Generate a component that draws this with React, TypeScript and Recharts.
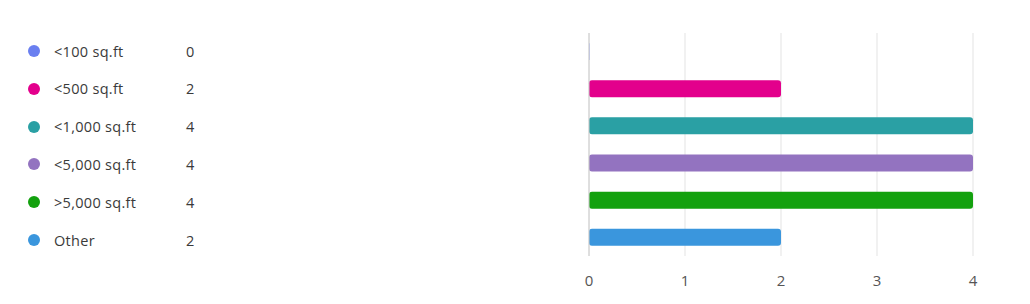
import React from "react";
import { BarChart, Bar, XAxis, YAxis, CartesianGrid, Cell, ReferenceLine } from "recharts";

const categories = ["<100 sq.ft", "<500 sq.ft", "<1,000 sq.ft", "<5,000 sq.ft", ">5,000 sq.ft", "Other"];
const counts = [0, 2, 4, 4, 4, 2];
const colors = ["#6a7ff0", "#e3008c", "#2aa0a4", "#9373c0", "#13a10e", "#3a96dd"];
const xTicks = [0, 1, 2, 3, 4];

const data = categories.map((name, i) => ({ name, value: counts[i] }));

const FONT = "'Segoe UI', 'Open Sans', 'Noto Sans', sans-serif";

const XTick = (props: any) => {
  const { x, y, payload } = props;
  return (
    <text x={x} y={y + 22} textAnchor="middle" fill="#555" fontSize={15} fontFamily={FONT}>
      {payload.value}
    </text>
  );
};

export default function App() {
  return (
    <div style={{ position: "absolute", left: 0, top: 0, width: 1030, height: 304, background: "#fff", fontFamily: FONT }}>
      <div style={{ position: "absolute", left: 0, top: 0 }}>
        {categories.map((c, i) => (
          <div
            key={c}
            style={{
              position: "absolute",
              left: 0,
              top: 51 + i * 37.8 - 10,
              height: 20,
              width: 220,
              display: "flex",
              alignItems: "center",
              fontSize: 14.5,
              letterSpacing: 0.3,
              color: "#3a3a3a",
            }}
          >
            <span
              style={{
                position: "absolute",
                left: 28,
                width: 12,
                height: 12,
                borderRadius: 6,
                background: colors[i],
              }}
            />
            <span style={{ position: "absolute", left: 54, whiteSpace: "nowrap" }}>{c}</span>
            <span style={{ position: "absolute", left: 186 }}>{counts[i]}</span>
          </div>
        ))}
      </div>
      <div style={{ position: "absolute", left: 0, top: 0 }}>
        <BarChart
          width={1030}
          height={304}
          data={data}
          layout="vertical"
          margin={{ top: 33, right: 57, bottom: 18, left: 589 }}
          barSize={17}
        >
          <CartesianGrid horizontal={false} stroke="#e3e3e3" />
          <ReferenceLine x={0} stroke="#cccccc" />
          <XAxis
            type="number"
            domain={[0, 4]}
            ticks={xTicks}
            tickLine={false}
            axisLine={false}
            height={30}
            tick={<XTick />}
          />
          <YAxis type="category" dataKey="name" hide width={0} />
          <Bar dataKey="value" radius={3} minPointSize={1} isAnimationActive={false}>
            {data.map((d, i) => (
              <Cell key={d.name} fill={colors[i]} fillOpacity={d.value === 0 ? 0.4 : 1} />
            ))}
          </Bar>
        </BarChart>
      </div>
    </div>
  );
}
